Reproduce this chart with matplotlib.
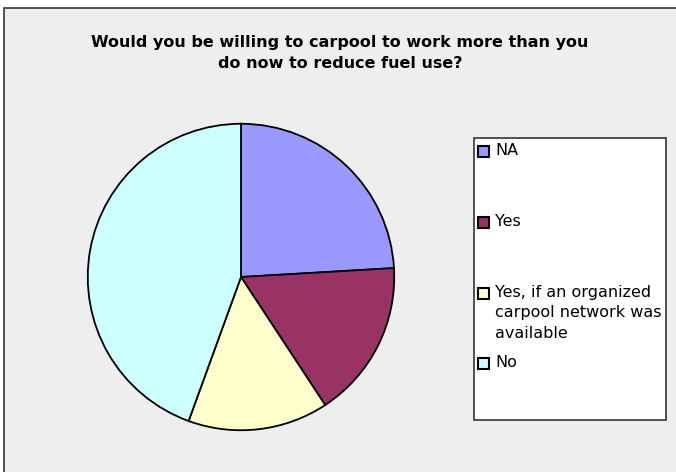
"""Carpool survey pie chart, Excel-style: gray chart area, boxed legend."""

import matplotlib

matplotlib.use("Agg")
import matplotlib.pyplot as plt
from matplotlib.patches import Rectangle

labels = ["NA", "Yes",
          "Yes, if an organized\ncarpool network was\navailable", "No"]
counts = [13, 9, 8, 24]
colors = ["#9999FF", "#993366", "#FFFFCC", "#CCFFFF"]
title = ("Would you be willing to carpool to work more than you\n"
         "do now to reduce fuel use?")

W, H = 676, 472


def main() -> None:
    plt.rcParams["font.family"] = ["DejaVu Sans"]
    fig = plt.figure(figsize=(W / 100, H / 100), dpi=100)
    fig.patch.set_facecolor("white")

    # background layer in pixel coords (y down)
    bg = fig.add_axes([0, 0, 1, 1], zorder=0)
    bg.set_xlim(0, W)
    bg.set_ylim(H, 0)
    bg.axis("off")
    bg.add_patch(Rectangle((3.5, 7.5), W + 10, H + 10, facecolor="#EEEEEE",
                           edgecolor="#333333", lw=1.2))
    bg.text(340, 53, title, ha="center", va="center", fontsize=11.5,
            fontweight="bold", linespacing=1.5)

    # legend box
    bg.add_patch(Rectangle((473.5, 137.5), 192, 282, facecolor="white",
                           edgecolor="#333333", lw=1.2))
    centers = [151, 222, 293, 363]
    for lab, col, yc in zip(labels, colors, centers):
        bg.add_patch(Rectangle((478, yc - 5.5), 11, 11, facecolor=col,
                               edgecolor="black", lw=1.5))
        bg.text(495, yc - 8, lab, ha="left", va="top", fontsize=11.5,
                linespacing=1.45, color="black")

    # pie: centre (241, 277), radius 154 px
    r = 154
    ax = fig.add_axes([(241 - r) / W, (H - 277 - r) / H, 2 * r / W, 2 * r / H],
                      zorder=1)
    ax.pie(counts, colors=colors, startangle=90, counterclock=False,
           wedgeprops=dict(edgecolor="black", linewidth=1.3))
    ax.set_xlim(-1.005, 1.005)
    ax.set_ylim(-1.005, 1.005)
    ax.patch.set_alpha(0)

    fig.savefig("out.png", dpi=100)


if __name__ == "__main__":
    main()
